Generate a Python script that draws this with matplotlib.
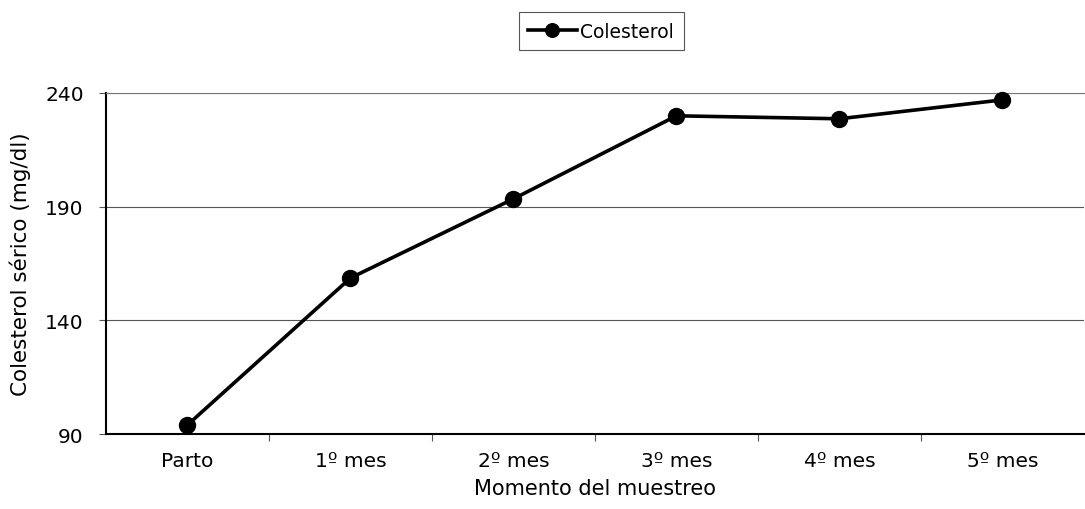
import matplotlib.pyplot as plt

# Datos
momentos = ["Parto", "1º mes", "2º mes", "3º mes", "4º mes", "5º mes"]
colesterol = [94, 158.6, 193.4, 229.9, 228.6, 236.9]
y_ticks = [90, 140, 190, 240]

fig = plt.figure(figsize=(10.85, 5.10), dpi=100)
ax = fig.add_axes([0.0977, 0.147, 0.9013, 0.669])

x = list(range(len(momentos)))
ax.plot(x, colesterol, color="black", lw=2.6, marker="o", ms=11.5, label="Colesterol",
        clip_on=False, zorder=3)

ax.set_xlim(-0.5, len(momentos) - 0.5)
ax.set_ylim(90, 240)
ax.set_yticks(y_ticks)
ax.yaxis.grid(True, color="#555555", lw=0.8)
ax.set_axisbelow(True)

# ticks del eje x entre categorías
ax.set_xticks([i + 0.5 for i in x[:-1]], minor=False)
ax.set_xticklabels([])
ax.set_xticks(x, minor=True)
ax.set_xticklabels(momentos, minor=True, fontsize=14.5)
ax.tick_params(axis="x", which="minor", length=0, pad=12)
ax.tick_params(axis="x", which="major", length=5, color="#555555")
ax.tick_params(axis="y", labelsize=14.5, length=5, pad=11, color="#555555")

for s in ["left", "bottom"]:
    ax.spines[s].set_linewidth(1.5)
ax.spines["top"].set_color("#777777")
ax.spines["top"].set_linewidth(0.8)
ax.spines["right"].set_visible(False)

ax.set_xlabel("Momento del muestreo", fontsize=15, labelpad=6)
ax.set_ylabel("Colesterol sérico (mg/dl)", fontsize=15.5, labelpad=10)

leg = fig.legend(loc="center", bbox_to_anchor=(0.554, 0.937), fontsize=13.5,
                 fancybox=False, edgecolor="#555555", framealpha=1,
                 handlelength=2.6, markerscale=0.85, borderpad=0.5,
                 handletextpad=0.2, borderaxespad=0)
leg.get_frame().set_linewidth(0.8)

plt.savefig("out.png", dpi=100)
